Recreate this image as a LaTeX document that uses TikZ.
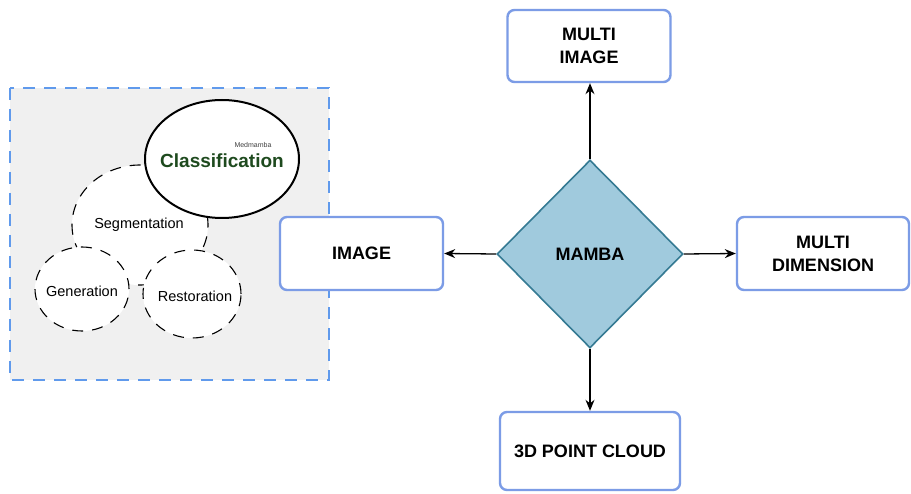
\documentclass[tikz,border=0pt]{standalone}
\usepackage{fontspec}
\setmainfont{Liberation Sans}
\usetikzlibrary{shapes.geometric,arrows.meta}
\definecolor{boxblue}{RGB}{124,156,230}
\definecolor{dfill}{RGB}{160,202,221}
\definecolor{dline}{RGB}{53,122,147}
\definecolor{graybg}{RGB}{240,240,240}
\definecolor{dashblue}{RGB}{96,154,236}
\definecolor{clsgreen}{RGB}{30,74,30}
\tikzset{
  boxnode/.style={draw=boxblue, line width=2.4pt, rounded corners=7pt, fill=white,
    align=center, inner sep=0pt, font=\fontsize{18}{23}\selectfont\bfseries},
  dcirc/.style={draw=black, line width=1.1pt, dash pattern=on 11pt off 9pt, fill=white,
    ellipse, inner sep=0pt},
  lbl/.style={font=\fontsize{14.5}{16}\selectfont, inner sep=0pt},
  arr/.style={-{Stealth[length=11pt,width=9pt]}, line width=1.3pt, black}
}
\begin{document}
\begin{tikzpicture}[x=1pt,y=-1pt]
\clip (0,0) rectangle (911,494);
\fill[white] (0,0) rectangle (911,494);
% left panel
\draw[fill=graybg, draw=dashblue, line width=1.2pt, dash pattern=on 12pt off 9pt] (10,88) rectangle (329,380);
\node[dcirc, minimum width=136pt, minimum height=120pt] (seg) at (140,225) {};
\node[dcirc, minimum width=94pt, minimum height=84pt] (gen) at (82,289) {};
\node[dcirc, minimum width=98pt, minimum height=88pt] (res) at (192,294) {};
\node[draw=black, line width=2pt, fill=white, ellipse, inner sep=0pt,
      minimum width=154pt, minimum height=118pt] (cls) at (222,159) {};
\node[lbl] (segt) at (139,225) {Segmentation};
\node[lbl] (gent) at (82,291) {Generation};
\node[lbl] (rest) at (195,296) {Restoration};
\node[font=\fontsize{19}{21}\selectfont\bfseries, text=clsgreen, inner sep=0pt] (clst) at (222,161) {Classification};
\node[font=\fontsize{7}{8}\selectfont, text=black!75, inner sep=0pt] (med) at (253,145) {Medmamba};
% right part
\node[draw=dline, line width=1.6pt, fill=dfill, diamond, aspect=1, inner sep=0pt,
      minimum width=186pt, minimum height=188pt,
      font=\fontsize{18}{22}\selectfont\bfseries] (mamba) at (590,254) {MAMBA};
\node[boxnode, minimum width=163pt, minimum height=72pt] (mimg) at (589,46) {MULTI\\IMAGE};
\node[boxnode, minimum width=163pt, minimum height=73pt] (img) at (361.5,253.5) {IMAGE};
\node[boxnode, minimum width=172pt, minimum height=73pt] (mdim) at (823,253.5) {MULTI\\DIMENSION};
\node[boxnode, minimum width=180pt, minimum height=78pt] (pc) at (590,451) {3D POINT CLOUD};
\draw[arr] (mamba.north) -- (mamba.north |- mimg.south);
\draw[arr] (mamba.west) -- (img.east);
\draw[arr] (mamba.east) -- (mdim.west);
\draw[arr] (mamba.south) -- (mamba.south |- pc.north);
\end{tikzpicture}
\end{document}
